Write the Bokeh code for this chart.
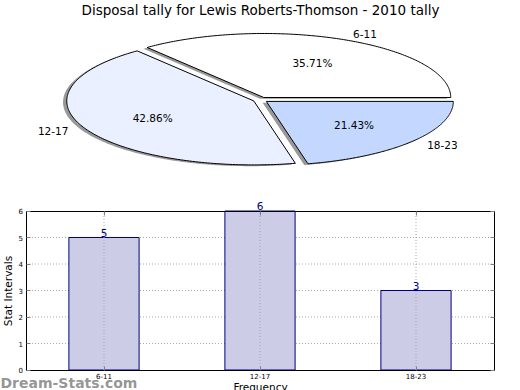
import numpy as np
from bokeh.plotting import figure
from bokeh.models import (ColumnDataSource, Range1d, LabelSet, Label, FixedTicker,
                          LinearAxis)
from bokeh.embed import file_html
from bokeh.resources import INLINE
from bokeh.core.properties import value

# ---------------- data ----------------
title_text = "Disposal tally for Lewis Roberts-Thomson - 2010 tally"
categories = ["6-11", "12-17", "18-23"]
counts = [5, 6, 3]
slice_colors = ["#ffffff", "#eaf0ff", "#c4d8ff"]
y_ticks = [0, 1, 2, 3, 4, 5, 6]
y_label = "Stat Intervals"
x_label = "Frequency"
watermark = "Dream-Stats.com"

FONT_NAME = "DejaVu Sans"
FONT = value(FONT_NAME)

# ---------------- canvas / layout constants (pixels) ----------------
W, H = 520, 390
# bar frame box in canvas pixels
BL, BR, BT, BB = 25.5, 493.5, 210.5, 369.5
# pie ellipse
PCX, PCY, PRX, PRY = 260.0, 99.3, 187.0, 64.0
EXPLODE = 0.04
SHADOW = 0.02

n = len(categories)
x_pos = list(range(n))
ymax = max(y_ticks)

sx = (BR - BL) / n                 # px per category
sy = (BB - BT) / ymax              # px per count unit
x_lo, x_hi = -0.5, n - 0.5

p = figure(width=W, height=H,
           x_range=Range1d(x_lo - BL / sx, x_hi + (W - BR) / sx),
           y_range=Range1d(-(H - BB) / sy, ymax + BT / sy),
           x_axis_type=None, y_axis_type=None, output_backend="svg",
           toolbar_location=None, min_border=0)
p.grid.visible = False
p.outline_line_color = None
p.background_fill_color = "white"
p.border_fill_color = "white"

p.extra_x_ranges = {"pie": Range1d(-PCX / PRX, (W - PCX) / PRX)}
p.extra_y_ranges = {"pie": Range1d(-(H - PCY) / PRY, PCY / PRY)}


def pie_x(px):
    return (px - PCX) / PRX


def pie_y(py):
    return (PCY - py) / PRY


# ---------------- pie ----------------
total = float(sum(counts))
fracs = [c / total for c in counts]
starts = np.cumsum([0.0] + fracs[:-1]) * 2 * np.pi
ends = np.cumsum(fracs) * 2 * np.pi

xs, ys, sxs, sys_ = [], [], [], []
lab_l = {"x": [], "y": [], "t": []}
lab_r = {"x": [], "y": [], "t": []}
pct = {"x": [], "y": [], "t": []}
for cat, f, a0, a1 in zip(categories, fracs, starts, ends):
    mid = (a0 + a1) / 2
    ox, oy = EXPLODE * np.cos(mid), EXPLODE * np.sin(mid)
    th = np.linspace(a0, a1, 160)
    px = [ox] + list(ox + np.cos(th))
    py = [oy] + list(oy + np.sin(th))
    xs.append(px)
    ys.append(py)
    sxs.append([v - SHADOW for v in px])
    sys_.append([v - SHADOW for v in py])
    lx, ly = ox + 1.1 * np.cos(mid), oy + 1.1 * np.sin(mid)
    d = lab_l if lx > 0 else lab_r
    d["x"].append(lx)
    d["y"].append(ly)
    d["t"].append(cat)
    pct["x"].append(ox + 0.6 * np.cos(mid))
    pct["y"].append(oy + 0.6 * np.sin(mid))
    pct["t"].append("%.2f%%" % (f * 100))

PR = dict(x_range_name="pie", y_range_name="pie")
p.patches(sxs, sys_, fill_color="#333333", fill_alpha=0.5, line_color=None, **PR)
p.patches(xs, ys, fill_color=slice_colors, line_color="black", line_width=1, **PR)

txt = dict(text_baseline="middle", text_font=FONT, text_font_size="10.5px",
           text_color="black")
p.text(x="x", y="y", text="t", source=ColumnDataSource(lab_l), text_align="left", **txt, **PR)
p.text(x="x", y="y", text="t", source=ColumnDataSource(lab_r), text_align="right", **txt, **PR)
p.text(x="x", y="y", text="t", source=ColumnDataSource(pct), text_align="center", **txt, **PR)
p.text(x=[pie_x(260)], y=[pie_y(9)], text=[title_text], text_align="center",
       text_baseline="middle", text_font=FONT, text_font_size="13.5px",
       text_color="black", **PR)

# ---------------- bar chart ----------------
grid_style = dict(line_color="#a8a8a8", line_width=1, line_dash="1 2")
inner = [t for t in y_ticks if 0 < t < ymax]
p.segment(x0=[x_lo] * len(inner), x1=[x_hi] * len(inner), y0=inner, y1=inner, **grid_style)

src = ColumnDataSource(dict(x=x_pos, count=counts, lab=[str(c) for c in counts]))
p.vbar(x="x", top="count", bottom=0, width=0.45, source=src, fill_color="#ccccE6",
       line_color="#000080", line_width=1)
p.segment(x0=x_pos, x1=x_pos, y0=[0] * n, y1=[ymax] * n, **grid_style)

p.add_layout(LabelSet(x="x", y="count", text="lab", source=src, text_align="center",
                      text_baseline="alphabetic", text_color="#000080", text_font=FONT,
                      text_font_size="10.5px", y_offset=1))


def style_axis(ax):
    ax.axis_line_color = "black"
    ax.axis_line_width = 1
    ax.major_tick_in = 4
    ax.major_tick_out = 0
    ax.minor_tick_in = 0
    ax.minor_tick_out = 0
    ax.major_tick_line_color = "#808080"
    ax.major_label_text_font = FONT_NAME
    ax.major_label_text_font_size = "7px"
    ax.major_label_text_color = "black"
    ax.axis_label_text_font = FONT_NAME
    ax.axis_label_text_font_size = "10.5px"
    ax.axis_label_text_font_style = "normal"
    ax.axis_label_text_color = "black"


left = LinearAxis(fixed_location=x_lo, ticker=FixedTicker(ticks=y_ticks), bounds=(0, ymax),
                  axis_label=y_label)
style_axis(left)
left.major_label_standoff = 3
left.axis_label_standoff = 2
p.add_layout(left, "left")

right = LinearAxis(fixed_location=x_hi, ticker=FixedTicker(ticks=y_ticks), bounds=(0, ymax),
                   major_label_overrides={t: "" for t in y_ticks})
style_axis(right)
p.add_layout(right, "right")

bottom = LinearAxis(fixed_location=0, ticker=FixedTicker(ticks=x_pos), bounds=(x_lo, x_hi),
                    major_label_overrides={i: c for i, c in zip(x_pos, categories)},
                    axis_label=x_label)
style_axis(bottom)
bottom.major_label_standoff = 3
bottom.axis_label_standoff = -2
p.add_layout(bottom, "below")

top = LinearAxis(fixed_location=ymax, ticker=FixedTicker(ticks=x_pos), bounds=(x_lo, x_hi),
                 major_label_overrides={i: "" for i in x_pos})
style_axis(top)
p.add_layout(top, "above")

p.add_layout(Label(x=0, y=8, x_units="screen", y_units="screen", text=watermark,
                   text_font=FONT_NAME, text_font_size="14px", text_font_style="bold",
                   text_baseline="alphabetic", text_color="#909090", text_alpha=0.95))

open("out.html", "w").write(file_html(p, INLINE))
